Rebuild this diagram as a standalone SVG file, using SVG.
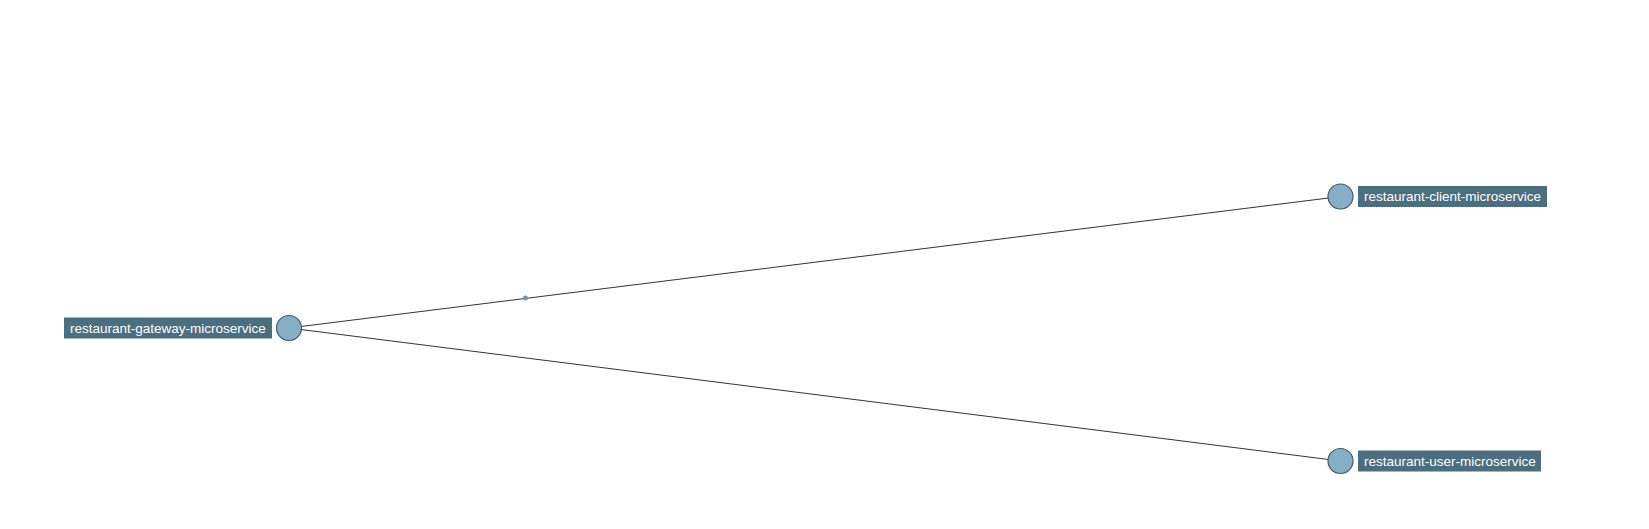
<svg xmlns="http://www.w3.org/2000/svg" width="1649" height="529" viewBox="0 0 1649 529">
<style>
.bg{fill:#ffffff}
.link{stroke:#333333;stroke-width:1;fill:none}
.node{fill:#86aec4;stroke:#3d5a6c;stroke-width:1.2}
.lbl{fill:#4b6f7f}
.txt{fill:#ffffff;font-family:"Liberation Sans",Arial,sans-serif;font-size:13.5px;dominant-baseline:central}
.dot{fill:#6f98b3}
</style>
<rect class="bg" x="0" y="0" width="1649" height="529"/>
<g id="connectors">
<line class="link" x1="289" y1="328" x2="1340.5" y2="196.5"/>
<line class="link" x1="289" y1="328" x2="1340.5" y2="461"/>
<circle class="dot" cx="525.5" cy="298" r="2.5"/>
</g>
<g id="gateway">
<rect class="lbl" x="64" y="317.5" width="208" height="21"/>
<text class="txt" x="70" y="328">restaurant-gateway-microservice</text>
<circle class="node" cx="289" cy="328" r="12.5"/>
</g>
<g id="client">
<circle class="node" cx="1340.5" cy="196.5" r="12.5"/>
<rect class="lbl" x="1358" y="186" width="189" height="21"/>
<text class="txt" x="1364" y="196.5">restaurant-client-microservice</text>
</g>
<g id="user">
<circle class="node" cx="1340.5" cy="461" r="12.5"/>
<rect class="lbl" x="1358" y="450.5" width="183" height="21"/>
<text class="txt" x="1364" y="461">restaurant-user-microservice</text>
</g>
</svg>
